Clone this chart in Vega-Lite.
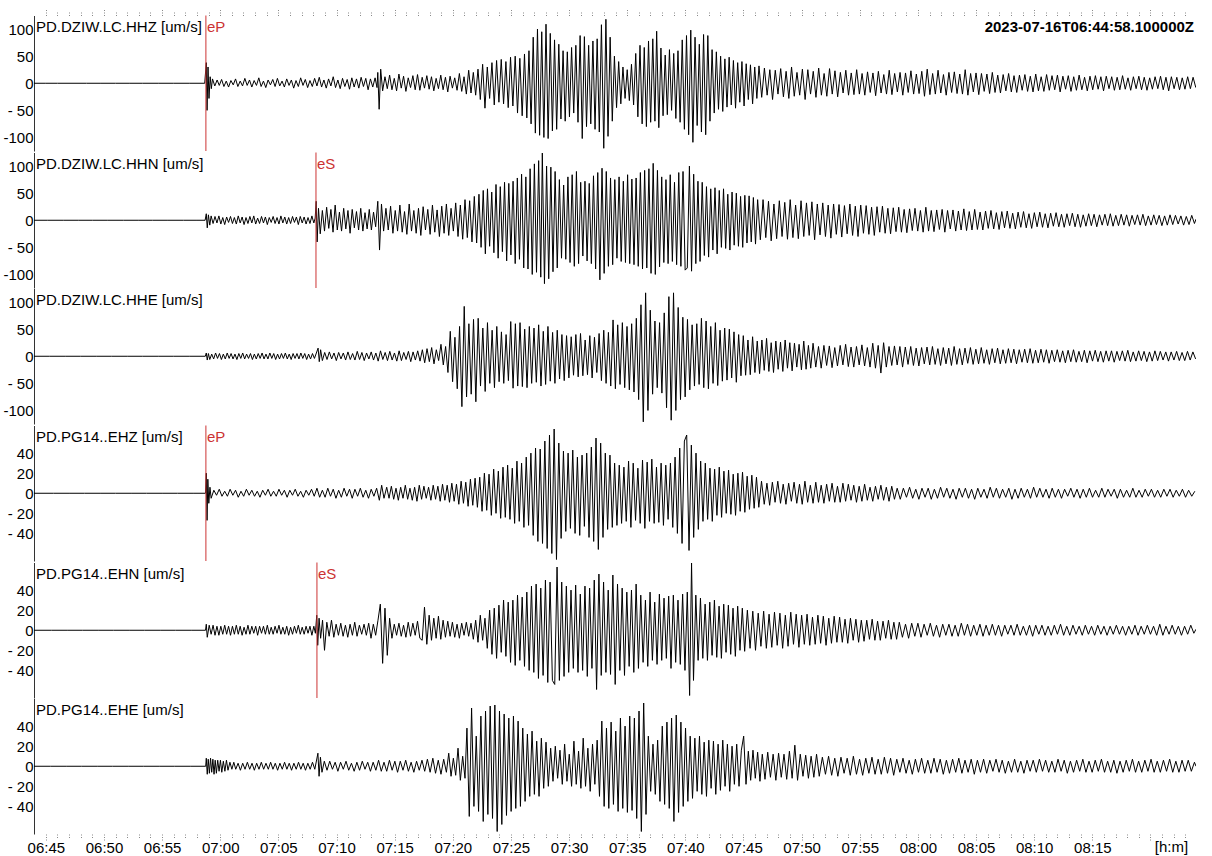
{
"$schema":"https://vega.github.io/schema/vega-lite/v6.json",
"padding":{"left":2,"top":8.5,"right":0,"bottom":0},
"spacing":0,
"config":{"font":"Liberation Sans, Arial, sans-serif","view":{"stroke":null},"axis":{"grid":false,"title":null,"labelColor":"#000","labelFontSize":15,"labelFont":"Liberation Sans, Arial, sans-serif"},"text":{"font":"Liberation Sans, Arial, sans-serif","fontSize":15}},
"datasets":{
"hhz":[{"t":-41,"a":0},{"t":20,"a":0},{"t":80,"a":0},{"t":150,"a":0},{"t":230,"a":0},{"t":300,"a":0},{"t":380,"a":0},{"t":450,"a":0},{"t":520,"a":0},{"t":600,"a":0},{"t":680,"a":0},{"t":760,"a":0},{"t":840,"a":0},{"t":848,"a":38},{"t":852,"a":-50},{"t":857,"a":30},{"t":862,"a":-28},{"t":868,"a":12},{"t":874,"a":-10},{"t":880,"a":8},{"t":892,"a":-5},{"t":904,"a":6},{"t":915,"a":-4},{"t":927,"a":7},{"t":939,"a":-6},{"t":951,"a":4},{"t":963,"a":-7},{"t":975,"a":5},{"t":987,"a":-3},{"t":999,"a":8},{"t":1011,"a":-6},{"t":1023,"a":4},{"t":1035,"a":-5},{"t":1047,"a":9},{"t":1059,"a":-4},{"t":1071,"a":6},{"t":1083,"a":-7},{"t":1095,"a":5},{"t":1107,"a":-4},{"t":1119,"a":10},{"t":1131,"a":-6},{"t":1143,"a":4},{"t":1155,"a":-8},{"t":1167,"a":6},{"t":1179,"a":-3},{"t":1191,"a":7},{"t":1203,"a":-6},{"t":1215,"a":9},{"t":1227,"a":-5},{"t":1239,"a":4},{"t":1251,"a":-7},{"t":1263,"a":8},{"t":1275,"a":-4},{"t":1287,"a":6},{"t":1299,"a":-9},{"t":1311,"a":5},{"t":1323,"a":-6},{"t":1335,"a":10},{"t":1347,"a":-4},{"t":1359,"a":7},{"t":1371,"a":-8},{"t":1383,"a":5},{"t":1395,"a":-6},{"t":1407,"a":9},{"t":1419,"a":-5},{"t":1431,"a":11},{"t":1443,"a":-7},{"t":1455,"a":6},{"t":1467,"a":-9},{"t":1479,"a":8},{"t":1491,"a":-5},{"t":1503,"a":12},{"t":1515,"a":-8},{"t":1527,"a":6},{"t":1539,"a":-10},{"t":1551,"a":9},{"t":1563,"a":-6},{"t":1575,"a":7},{"t":1587,"a":-11},{"t":1599,"a":10},{"t":1611,"a":-7},{"t":1623,"a":8},{"t":1635,"a":-9},{"t":1647,"a":11},{"t":1659,"a":-6},{"t":1671,"a":9},{"t":1683,"a":-12},{"t":1695,"a":8},{"t":1707,"a":-7},{"t":1719,"a":10},{"t":1729,"a":-8},{"t":1733,"a":20},{"t":1740,"a":-48},{"t":1748,"a":26},{"t":1758,"a":-14},{"t":1770,"a":12},{"t":1782,"a":-10},{"t":1794,"a":15},{"t":1806,"a":-12},{"t":1818,"a":9},{"t":1830,"a":-14},{"t":1842,"a":17},{"t":1854,"a":-9},{"t":1866,"a":13},{"t":1878,"a":-15},{"t":1890,"a":10},{"t":1902,"a":-8},{"t":1914,"a":14},{"t":1926,"a":-12},{"t":1938,"a":16},{"t":1950,"a":-13},{"t":1962,"a":11},{"t":1974,"a":-9},{"t":1986,"a":14},{"t":1998,"a":-11},{"t":2010,"a":12},{"t":2022,"a":-14},{"t":2034,"a":9},{"t":2046,"a":-10},{"t":2058,"a":15},{"t":2070,"a":-12},{"t":2082,"a":11},{"t":2094,"a":-16},{"t":2106,"a":13},{"t":2118,"a":-9},{"t":2130,"a":10},{"t":2142,"a":-13},{"t":2154,"a":18},{"t":2166,"a":-15},{"t":2178,"a":12},{"t":2190,"a":-20},{"t":2202,"a":24},{"t":2214,"a":-18},{"t":2226,"a":20},{"t":2238,"a":-22},{"t":2250,"a":26},{"t":2262,"a":-30},{"t":2274,"a":35},{"t":2286,"a":-46},{"t":2298,"a":30},{"t":2310,"a":-28},{"t":2322,"a":38},{"t":2334,"a":-40},{"t":2346,"a":42},{"t":2358,"a":-35},{"t":2370,"a":44},{"t":2382,"a":-38},{"t":2394,"a":40},{"t":2406,"a":-45},{"t":2418,"a":48},{"t":2430,"a":-42},{"t":2442,"a":50},{"t":2454,"a":-55},{"t":2466,"a":46},{"t":2478,"a":-60},{"t":2490,"a":54},{"t":2502,"a":-64},{"t":2513,"a":60},{"t":2524,"a":-75},{"t":2535,"a":85},{"t":2546,"a":-92},{"t":2557,"a":100},{"t":2568,"a":-96},{"t":2579,"a":95},{"t":2590,"a":-100},{"t":2601,"a":109},{"t":2612,"a":-102},{"t":2623,"a":92},{"t":2634,"a":-88},{"t":2645,"a":80},{"t":2656,"a":-85},{"t":2667,"a":72},{"t":2678,"a":-66},{"t":2689,"a":60},{"t":2700,"a":-70},{"t":2711,"a":58},{"t":2722,"a":-62},{"t":2733,"a":66},{"t":2744,"a":-55},{"t":2755,"a":70},{"t":2766,"a":-72},{"t":2777,"a":88},{"t":2788,"a":-102},{"t":2799,"a":86},{"t":2810,"a":-80},{"t":2821,"a":70},{"t":2832,"a":-75},{"t":2843,"a":78},{"t":2854,"a":-85},{"t":2865,"a":82},{"t":2876,"a":-90},{"t":2887,"a":108},{"t":2899,"a":-120},{"t":2910,"a":118},{"t":2921,"a":-98},{"t":2932,"a":85},{"t":2943,"a":-70},{"t":2954,"a":50},{"t":2965,"a":-45},{"t":2976,"a":40},{"t":2987,"a":-38},{"t":2998,"a":30},{"t":3009,"a":-28},{"t":3020,"a":25},{"t":3031,"a":-32},{"t":3042,"a":35},{"t":3053,"a":-40},{"t":3064,"a":55},{"t":3075,"a":-62},{"t":3086,"a":70},{"t":3097,"a":-75},{"t":3108,"a":66},{"t":3119,"a":-80},{"t":3130,"a":78},{"t":3141,"a":-72},{"t":3152,"a":82},{"t":3163,"a":-70},{"t":3172,"a":96},{"t":3183,"a":-82},{"t":3194,"a":65},{"t":3205,"a":-60},{"t":3216,"a":52},{"t":3227,"a":-58},{"t":3238,"a":62},{"t":3249,"a":-50},{"t":3260,"a":55},{"t":3271,"a":-65},{"t":3282,"a":60},{"t":3293,"a":-72},{"t":3304,"a":80},{"t":3315,"a":-85},{"t":3326,"a":88},{"t":3337,"a":-95},{"t":3348,"a":98},{"t":3359,"a":-109},{"t":3370,"a":85},{"t":3381,"a":-78},{"t":3392,"a":72},{"t":3403,"a":-90},{"t":3414,"a":90},{"t":3425,"a":-95},{"t":3436,"a":88},{"t":3447,"a":-70},{"t":3458,"a":62},{"t":3469,"a":-55},{"t":3480,"a":58},{"t":3491,"a":-48},{"t":3502,"a":50},{"t":3513,"a":-52},{"t":3524,"a":45},{"t":3535,"a":-44},{"t":3546,"a":48},{"t":3557,"a":-40},{"t":3568,"a":42},{"t":3579,"a":-46},{"t":3590,"a":38},{"t":3601,"a":-35},{"t":3612,"a":40},{"t":3623,"a":-42},{"t":3634,"a":36},{"t":3645,"a":-30},{"t":3656,"a":34},{"t":3667,"a":-38},{"t":3678,"a":30},{"t":3689,"a":-28},{"t":3700,"a":32},{"t":3714,"a":-26},{"t":3728,"a":28},{"t":3742,"a":-22},{"t":3756,"a":25},{"t":3770,"a":-30},{"t":3784,"a":24},{"t":3798,"a":-20},{"t":3812,"a":27},{"t":3826,"a":-25},{"t":3840,"a":22},{"t":3854,"a":-28},{"t":3868,"a":30},{"t":3882,"a":-24},{"t":3896,"a":20},{"t":3910,"a":-22},{"t":3924,"a":26},{"t":3938,"a":-30},{"t":3952,"a":25},{"t":3966,"a":-20},{"t":3980,"a":22},{"t":3994,"a":-26},{"t":4008,"a":28},{"t":4022,"a":-22},{"t":4036,"a":18},{"t":4050,"a":-24},{"t":4064,"a":27},{"t":4078,"a":-20},{"t":4092,"a":23},{"t":4106,"a":-25},{"t":4120,"a":20},{"t":4134,"a":-18},{"t":4148,"a":24},{"t":4162,"a":-22},{"t":4176,"a":19},{"t":4190,"a":-21},{"t":4204,"a":25},{"t":4218,"a":-20},{"t":4232,"a":18},{"t":4246,"a":-22},{"t":4260,"a":21},{"t":4274,"a":-17},{"t":4288,"a":19},{"t":4302,"a":-23},{"t":4316,"a":22},{"t":4330,"a":-18},{"t":4344,"a":16},{"t":4358,"a":-20},{"t":4372,"a":24},{"t":4386,"a":-21},{"t":4400,"a":18},{"t":4414,"a":-16},{"t":4428,"a":20},{"t":4442,"a":-22},{"t":4456,"a":19},{"t":4470,"a":-17},{"t":4484,"a":23},{"t":4498,"a":-20},{"t":4512,"a":17},{"t":4526,"a":-19},{"t":4540,"a":22},{"t":4554,"a":-24},{"t":4568,"a":26},{"t":4582,"a":-21},{"t":4596,"a":18},{"t":4610,"a":-20},{"t":4624,"a":24},{"t":4638,"a":-18},{"t":4652,"a":16},{"t":4666,"a":-22},{"t":4680,"a":20},{"t":4694,"a":-17},{"t":4708,"a":21},{"t":4722,"a":-19},{"t":4736,"a":17},{"t":4750,"a":-20},{"t":4764,"a":25},{"t":4778,"a":-22},{"t":4792,"a":18},{"t":4806,"a":-16},{"t":4820,"a":19},{"t":4834,"a":-21},{"t":4848,"a":18},{"t":4862,"a":-15},{"t":4876,"a":17},{"t":4890,"a":-19},{"t":4904,"a":20},{"t":4918,"a":-17},{"t":4932,"a":15},{"t":4946,"a":-18},{"t":4960,"a":16},{"t":4974,"a":-14},{"t":4988,"a":18},{"t":5002,"a":-16},{"t":5016,"a":14},{"t":5030,"a":-17},{"t":5044,"a":15},{"t":5058,"a":-13},{"t":5072,"a":16},{"t":5086,"a":-15},{"t":5100,"a":13},{"t":5114,"a":-16},{"t":5128,"a":17},{"t":5142,"a":-14},{"t":5156,"a":12},{"t":5170,"a":-15},{"t":5184,"a":16},{"t":5198,"a":-13},{"t":5212,"a":14},{"t":5226,"a":-12},{"t":5240,"a":15},{"t":5254,"a":-16},{"t":5268,"a":13},{"t":5282,"a":-11},{"t":5296,"a":14},{"t":5310,"a":-15},{"t":5324,"a":12},{"t":5338,"a":-13},{"t":5352,"a":15},{"t":5366,"a":-12},{"t":5380,"a":11},{"t":5394,"a":-14},{"t":5408,"a":13},{"t":5422,"a":-12},{"t":5436,"a":14},{"t":5450,"a":-11},{"t":5464,"a":12},{"t":5478,"a":-14},{"t":5492,"a":13},{"t":5506,"a":-10},{"t":5520,"a":12},{"t":5534,"a":-13},{"t":5548,"a":11},{"t":5562,"a":-12},{"t":5576,"a":14},{"t":5590,"a":-11},{"t":5604,"a":10},{"t":5618,"a":-13},{"t":5632,"a":12},{"t":5646,"a":-10},{"t":5660,"a":13},{"t":5674,"a":-12},{"t":5688,"a":11},{"t":5702,"a":-13},{"t":5716,"a":10},{"t":5730,"a":-11},{"t":5744,"a":12},{"t":5758,"a":-10},{"t":5772,"a":13},{"t":5786,"a":-12},{"t":5800,"a":11},{"t":5814,"a":-14},{"t":5828,"a":12},{"t":5842,"a":-10},{"t":5856,"a":11},{"t":5870,"a":-12},{"t":5884,"a":10},{"t":5898,"a":-11},{"t":5912,"a":12},{"t":5926,"a":-10},{"t":5940,"a":11},{"t":5954,"a":-8}],
"hhn":[{"t":-41,"a":0},{"t":30,"a":0},{"t":110,"a":0},{"t":190,"a":0},{"t":260,"a":0},{"t":340,"a":0},{"t":420,"a":0},{"t":500,"a":0},{"t":570,"a":0},{"t":650,"a":0},{"t":730,"a":0},{"t":800,"a":0},{"t":842,"a":0},{"t":848,"a":12},{"t":853,"a":-14},{"t":859,"a":10},{"t":866,"a":-9},{"t":873,"a":8},{"t":883,"a":-6},{"t":893,"a":7},{"t":903,"a":-5},{"t":913,"a":8},{"t":923,"a":-7},{"t":933,"a":5},{"t":943,"a":-8},{"t":953,"a":6},{"t":963,"a":-4},{"t":973,"a":7},{"t":983,"a":-6},{"t":993,"a":5},{"t":1003,"a":-7},{"t":1013,"a":8},{"t":1023,"a":-5},{"t":1033,"a":6},{"t":1043,"a":-8},{"t":1053,"a":5},{"t":1063,"a":-6},{"t":1073,"a":7},{"t":1083,"a":-5},{"t":1093,"a":8},{"t":1103,"a":-7},{"t":1113,"a":4},{"t":1123,"a":-6},{"t":1133,"a":7},{"t":1143,"a":-5},{"t":1153,"a":6},{"t":1163,"a":-8},{"t":1173,"a":5},{"t":1183,"a":-4},{"t":1193,"a":7},{"t":1203,"a":-6},{"t":1213,"a":5},{"t":1223,"a":-7},{"t":1233,"a":8},{"t":1243,"a":-5},{"t":1253,"a":6},{"t":1263,"a":-7},{"t":1273,"a":5},{"t":1283,"a":-6},{"t":1293,"a":7},{"t":1303,"a":-4},{"t":1313,"a":6},{"t":1323,"a":-8},{"t":1333,"a":7},{"t":1343,"a":-5},{"t":1353,"a":6},{"t":1363,"a":-7},{"t":1373,"a":5},{"t":1383,"a":-6},{"t":1393,"a":8},{"t":1403,"a":-5},{"t":1410,"a":4},{"t":1415,"a":35},{"t":1420,"a":-40},{"t":1427,"a":22},{"t":1436,"a":-25},{"t":1447,"a":18},{"t":1458,"a":-20},{"t":1469,"a":24},{"t":1480,"a":-15},{"t":1491,"a":20},{"t":1502,"a":-22},{"t":1513,"a":28},{"t":1524,"a":-18},{"t":1535,"a":15},{"t":1546,"a":-20},{"t":1557,"a":22},{"t":1568,"a":-16},{"t":1579,"a":18},{"t":1590,"a":-24},{"t":1601,"a":20},{"t":1612,"a":-14},{"t":1623,"a":16},{"t":1634,"a":-18},{"t":1645,"a":22},{"t":1656,"a":-20},{"t":1667,"a":14},{"t":1678,"a":-16},{"t":1689,"a":20},{"t":1700,"a":-18},{"t":1711,"a":15},{"t":1722,"a":-12},{"t":1733,"a":35},{"t":1742,"a":-55},{"t":1752,"a":30},{"t":1763,"a":-20},{"t":1775,"a":22},{"t":1787,"a":-18},{"t":1799,"a":26},{"t":1811,"a":-24},{"t":1823,"a":18},{"t":1835,"a":-20},{"t":1847,"a":28},{"t":1859,"a":-22},{"t":1871,"a":16},{"t":1883,"a":-26},{"t":1895,"a":30},{"t":1907,"a":-20},{"t":1919,"a":18},{"t":1931,"a":-24},{"t":1943,"a":22},{"t":1955,"a":-28},{"t":1967,"a":25},{"t":1979,"a":-18},{"t":1991,"a":20},{"t":2003,"a":-26},{"t":2015,"a":28},{"t":2027,"a":-22},{"t":2039,"a":19},{"t":2051,"a":-30},{"t":2063,"a":26},{"t":2075,"a":-24},{"t":2087,"a":30},{"t":2099,"a":-28},{"t":2111,"a":22},{"t":2123,"a":-20},{"t":2135,"a":32},{"t":2147,"a":-30},{"t":2159,"a":28},{"t":2171,"a":-35},{"t":2183,"a":38},{"t":2195,"a":-32},{"t":2207,"a":36},{"t":2219,"a":-40},{"t":2231,"a":44},{"t":2243,"a":-42},{"t":2255,"a":48},{"t":2266,"a":-50},{"t":2277,"a":55},{"t":2288,"a":-62},{"t":2299,"a":58},{"t":2310,"a":-48},{"t":2321,"a":52},{"t":2332,"a":-60},{"t":2343,"a":66},{"t":2354,"a":-70},{"t":2365,"a":62},{"t":2376,"a":-58},{"t":2387,"a":70},{"t":2398,"a":-75},{"t":2409,"a":68},{"t":2420,"a":-64},{"t":2431,"a":72},{"t":2442,"a":-80},{"t":2453,"a":78},{"t":2464,"a":-72},{"t":2475,"a":85},{"t":2486,"a":-88},{"t":2497,"a":80},{"t":2508,"a":-90},{"t":2519,"a":95},{"t":2530,"a":-100},{"t":2541,"a":104},{"t":2552,"a":-96},{"t":2563,"a":110},{"t":2574,"a":-105},{"t":2582,"a":124},{"t":2593,"a":-117},{"t":2604,"a":100},{"t":2615,"a":-108},{"t":2626,"a":98},{"t":2637,"a":-95},{"t":2648,"a":90},{"t":2659,"a":-88},{"t":2670,"a":75},{"t":2681,"a":-70},{"t":2692,"a":65},{"t":2703,"a":-72},{"t":2714,"a":80},{"t":2725,"a":-78},{"t":2736,"a":84},{"t":2747,"a":-85},{"t":2758,"a":90},{"t":2769,"a":-80},{"t":2780,"a":70},{"t":2791,"a":-66},{"t":2802,"a":72},{"t":2813,"a":-75},{"t":2824,"a":68},{"t":2835,"a":-80},{"t":2846,"a":82},{"t":2857,"a":-90},{"t":2868,"a":88},{"t":2879,"a":-110},{"t":2890,"a":96},{"t":2901,"a":-98},{"t":2912,"a":90},{"t":2923,"a":-85},{"t":2934,"a":78},{"t":2945,"a":-82},{"t":2956,"a":75},{"t":2967,"a":-70},{"t":2978,"a":80},{"t":2989,"a":-76},{"t":3000,"a":72},{"t":3011,"a":-78},{"t":3022,"a":84},{"t":3033,"a":-80},{"t":3044,"a":76},{"t":3055,"a":-82},{"t":3066,"a":78},{"t":3077,"a":-85},{"t":3088,"a":88},{"t":3099,"a":-90},{"t":3110,"a":92},{"t":3121,"a":-88},{"t":3132,"a":95},{"t":3143,"a":-98},{"t":3154,"a":105},{"t":3165,"a":-100},{"t":3176,"a":92},{"t":3187,"a":-86},{"t":3198,"a":80},{"t":3209,"a":-78},{"t":3220,"a":75},{"t":3231,"a":-80},{"t":3242,"a":84},{"t":3253,"a":-76},{"t":3264,"a":70},{"t":3275,"a":-82},{"t":3286,"a":88},{"t":3297,"a":-85},{"t":3308,"a":90},{"t":3319,"a":-92},{"t":3330,"a":-88},{"t":3341,"a":100},{"t":3352,"a":-94},{"t":3363,"a":85},{"t":3374,"a":-80},{"t":3385,"a":72},{"t":3396,"a":-76},{"t":3407,"a":70},{"t":3418,"a":-65},{"t":3429,"a":62},{"t":3440,"a":-68},{"t":3451,"a":58},{"t":3462,"a":-55},{"t":3473,"a":60},{"t":3484,"a":-62},{"t":3495,"a":55},{"t":3506,"a":-50},{"t":3517,"a":58},{"t":3528,"a":-52},{"t":3539,"a":48},{"t":3550,"a":-55},{"t":3561,"a":52},{"t":3572,"a":-46},{"t":3583,"a":50},{"t":3594,"a":-48},{"t":3605,"a":44},{"t":3616,"a":-50},{"t":3627,"a":46},{"t":3638,"a":-42},{"t":3649,"a":45},{"t":3660,"a":-40},{"t":3671,"a":42},{"t":3682,"a":-44},{"t":3693,"a":38},{"t":3707,"a":-36},{"t":3721,"a":38},{"t":3735,"a":-32},{"t":3749,"a":35},{"t":3763,"a":-38},{"t":3777,"a":30},{"t":3791,"a":-34},{"t":3805,"a":36},{"t":3819,"a":-30},{"t":3833,"a":33},{"t":3847,"a":-35},{"t":3861,"a":38},{"t":3875,"a":-32},{"t":3889,"a":28},{"t":3903,"a":-34},{"t":3917,"a":36},{"t":3931,"a":-30},{"t":3945,"a":32},{"t":3959,"a":-28},{"t":3973,"a":34},{"t":3987,"a":-36},{"t":4001,"a":30},{"t":4015,"a":-27},{"t":4029,"a":32},{"t":4043,"a":-30},{"t":4057,"a":28},{"t":4071,"a":-33},{"t":4085,"a":30},{"t":4099,"a":-26},{"t":4113,"a":29},{"t":4127,"a":-31},{"t":4141,"a":27},{"t":4155,"a":-25},{"t":4169,"a":30},{"t":4183,"a":-28},{"t":4197,"a":26},{"t":4211,"a":-30},{"t":4225,"a":28},{"t":4239,"a":-24},{"t":4253,"a":27},{"t":4267,"a":-26},{"t":4281,"a":24},{"t":4295,"a":-28},{"t":4309,"a":25},{"t":4323,"a":-22},{"t":4337,"a":26},{"t":4351,"a":-24},{"t":4365,"a":22},{"t":4379,"a":-25},{"t":4393,"a":23},{"t":4407,"a":-21},{"t":4421,"a":24},{"t":4435,"a":-22},{"t":4449,"a":20},{"t":4463,"a":-23},{"t":4477,"a":21},{"t":4491,"a":-19},{"t":4505,"a":22},{"t":4519,"a":-20},{"t":4533,"a":18},{"t":4547,"a":-22},{"t":4561,"a":24},{"t":4575,"a":-20},{"t":4589,"a":18},{"t":4603,"a":-21},{"t":4617,"a":19},{"t":4631,"a":-17},{"t":4645,"a":20},{"t":4659,"a":-22},{"t":4673,"a":18},{"t":4687,"a":-16},{"t":4701,"a":19},{"t":4715,"a":-20},{"t":4729,"a":17},{"t":4743,"a":-18},{"t":4757,"a":21},{"t":4771,"a":-19},{"t":4785,"a":16},{"t":4799,"a":-18},{"t":4813,"a":20},{"t":4827,"a":-17},{"t":4841,"a":15},{"t":4855,"a":-18},{"t":4869,"a":17},{"t":4883,"a":-15},{"t":4897,"a":18},{"t":4911,"a":-16},{"t":4925,"a":14},{"t":4939,"a":-17},{"t":4953,"a":16},{"t":4967,"a":-14},{"t":4981,"a":17},{"t":4995,"a":-15},{"t":5009,"a":13},{"t":5023,"a":-16},{"t":5037,"a":15},{"t":5051,"a":-13},{"t":5065,"a":16},{"t":5079,"a":-14},{"t":5093,"a":12},{"t":5107,"a":-15},{"t":5121,"a":14},{"t":5135,"a":-12},{"t":5149,"a":15},{"t":5163,"a":-13},{"t":5177,"a":12},{"t":5191,"a":-14},{"t":5205,"a":13},{"t":5219,"a":-11},{"t":5233,"a":14},{"t":5247,"a":-12},{"t":5261,"a":11},{"t":5275,"a":-13},{"t":5289,"a":12},{"t":5303,"a":-10},{"t":5317,"a":13},{"t":5331,"a":-12},{"t":5345,"a":11},{"t":5359,"a":-13},{"t":5373,"a":10},{"t":5387,"a":-11},{"t":5401,"a":12},{"t":5415,"a":-10},{"t":5429,"a":11},{"t":5443,"a":-12},{"t":5457,"a":10},{"t":5471,"a":-9},{"t":5485,"a":11},{"t":5499,"a":-10},{"t":5513,"a":12},{"t":5527,"a":-11},{"t":5541,"a":9},{"t":5555,"a":-10},{"t":5569,"a":11},{"t":5583,"a":-9},{"t":5597,"a":10},{"t":5611,"a":-11},{"t":5625,"a":9},{"t":5639,"a":-8},{"t":5653,"a":10},{"t":5667,"a":-9},{"t":5681,"a":11},{"t":5695,"a":-10},{"t":5709,"a":8},{"t":5723,"a":-9},{"t":5737,"a":10},{"t":5751,"a":-8},{"t":5765,"a":9},{"t":5779,"a":-10},{"t":5793,"a":8},{"t":5807,"a":-9},{"t":5821,"a":10},{"t":5835,"a":-8},{"t":5849,"a":9},{"t":5863,"a":-7},{"t":5877,"a":8},{"t":5891,"a":-9},{"t":5905,"a":7},{"t":5919,"a":-8},{"t":5933,"a":9},{"t":5947,"a":-6},{"t":5955,"a":2}],
"hhe":[{"t":-41,"a":0},{"t":40,"a":0},{"t":120,"a":0},{"t":200,"a":0},{"t":280,"a":0},{"t":360,"a":0},{"t":440,"a":0},{"t":520,"a":0},{"t":600,"a":0},{"t":680,"a":0},{"t":760,"a":0},{"t":843,"a":0},{"t":848,"a":6},{"t":853,"a":-7},{"t":859,"a":5},{"t":866,"a":-6},{"t":876,"a":4},{"t":886,"a":-5},{"t":896,"a":6},{"t":906,"a":-4},{"t":916,"a":5},{"t":926,"a":-6},{"t":936,"a":4},{"t":946,"a":-5},{"t":956,"a":6},{"t":966,"a":-4},{"t":976,"a":5},{"t":986,"a":-5},{"t":996,"a":4},{"t":1006,"a":-6},{"t":1016,"a":5},{"t":1026,"a":-4},{"t":1036,"a":6},{"t":1046,"a":-5},{"t":1056,"a":4},{"t":1066,"a":-4},{"t":1076,"a":5},{"t":1086,"a":-6},{"t":1096,"a":4},{"t":1106,"a":-5},{"t":1116,"a":5},{"t":1126,"a":-4},{"t":1136,"a":6},{"t":1146,"a":-5},{"t":1156,"a":4},{"t":1166,"a":-5},{"t":1176,"a":6},{"t":1186,"a":-4},{"t":1196,"a":5},{"t":1206,"a":-6},{"t":1216,"a":4},{"t":1226,"a":-5},{"t":1236,"a":5},{"t":1246,"a":-4},{"t":1256,"a":6},{"t":1266,"a":-5},{"t":1276,"a":4},{"t":1286,"a":-6},{"t":1296,"a":5},{"t":1306,"a":-4},{"t":1316,"a":5},{"t":1326,"a":-5},{"t":1336,"a":6},{"t":1346,"a":-4},{"t":1356,"a":5},{"t":1366,"a":-6},{"t":1376,"a":4},{"t":1386,"a":-5},{"t":1396,"a":5},{"t":1406,"a":-4},{"t":1425,"a":15},{"t":1431,"a":-10},{"t":1438,"a":12},{"t":1447,"a":-8},{"t":1459,"a":7},{"t":1471,"a":-6},{"t":1483,"a":8},{"t":1495,"a":-5},{"t":1507,"a":6},{"t":1519,"a":-8},{"t":1531,"a":7},{"t":1543,"a":-5},{"t":1555,"a":6},{"t":1567,"a":-7},{"t":1579,"a":8},{"t":1591,"a":-6},{"t":1603,"a":5},{"t":1615,"a":-7},{"t":1627,"a":9},{"t":1639,"a":-6},{"t":1651,"a":7},{"t":1663,"a":-8},{"t":1675,"a":6},{"t":1687,"a":-5},{"t":1699,"a":8},{"t":1711,"a":-7},{"t":1723,"a":6},{"t":1735,"a":-9},{"t":1747,"a":10},{"t":1759,"a":-6},{"t":1771,"a":7},{"t":1783,"a":-8},{"t":1795,"a":9},{"t":1807,"a":-7},{"t":1819,"a":6},{"t":1831,"a":-9},{"t":1843,"a":10},{"t":1855,"a":-8},{"t":1867,"a":7},{"t":1879,"a":-6},{"t":1891,"a":9},{"t":1903,"a":-10},{"t":1915,"a":8},{"t":1927,"a":-7},{"t":1939,"a":10},{"t":1951,"a":-9},{"t":1963,"a":12},{"t":1975,"a":-12},{"t":1987,"a":14},{"t":1999,"a":-10},{"t":2011,"a":16},{"t":2023,"a":-14},{"t":2035,"a":12},{"t":2047,"a":-8},{"t":2059,"a":22},{"t":2071,"a":-16},{"t":2083,"a":18},{"t":2095,"a":-30},{"t":2107,"a":46},{"t":2119,"a":-47},{"t":2131,"a":35},{"t":2143,"a":-60},{"t":2155,"a":55},{"t":2167,"a":-93},{"t":2179,"a":92},{"t":2191,"a":-75},{"t":2203,"a":60},{"t":2215,"a":-70},{"t":2227,"a":68},{"t":2239,"a":-84},{"t":2251,"a":70},{"t":2263,"a":-55},{"t":2275,"a":52},{"t":2287,"a":-65},{"t":2299,"a":62},{"t":2311,"a":-50},{"t":2323,"a":48},{"t":2335,"a":-58},{"t":2347,"a":55},{"t":2359,"a":-47},{"t":2371,"a":45},{"t":2383,"a":-50},{"t":2395,"a":40},{"t":2407,"a":-45},{"t":2419,"a":64},{"t":2431,"a":-59},{"t":2443,"a":60},{"t":2455,"a":-55},{"t":2467,"a":62},{"t":2479,"a":-56},{"t":2491,"a":50},{"t":2503,"a":-58},{"t":2515,"a":55},{"t":2527,"a":-50},{"t":2539,"a":52},{"t":2551,"a":-48},{"t":2563,"a":58},{"t":2575,"a":-55},{"t":2587,"a":46},{"t":2599,"a":-52},{"t":2611,"a":55},{"t":2623,"a":-46},{"t":2635,"a":44},{"t":2647,"a":-50},{"t":2659,"a":48},{"t":2671,"a":-42},{"t":2683,"a":40},{"t":2695,"a":-45},{"t":2707,"a":38},{"t":2719,"a":-40},{"t":2731,"a":36},{"t":2743,"a":-35},{"t":2755,"a":40},{"t":2767,"a":-38},{"t":2779,"a":42},{"t":2791,"a":-36},{"t":2803,"a":30},{"t":2815,"a":-34},{"t":2827,"a":38},{"t":2839,"a":-40},{"t":2851,"a":35},{"t":2863,"a":-30},{"t":2875,"a":42},{"t":2887,"a":-45},{"t":2899,"a":48},{"t":2911,"a":-50},{"t":2923,"a":44},{"t":2935,"a":-55},{"t":2947,"a":67},{"t":2959,"a":-60},{"t":2971,"a":58},{"t":2983,"a":-52},{"t":2995,"a":62},{"t":3007,"a":-58},{"t":3019,"a":55},{"t":3031,"a":-62},{"t":3043,"a":60},{"t":3055,"a":-66},{"t":3067,"a":70},{"t":3079,"a":-80},{"t":3091,"a":95},{"t":3103,"a":-121},{"t":3115,"a":117},{"t":3127,"a":-100},{"t":3139,"a":85},{"t":3151,"a":-70},{"t":3163,"a":65},{"t":3175,"a":-58},{"t":3187,"a":62},{"t":3199,"a":-68},{"t":3211,"a":80},{"t":3223,"a":-95},{"t":3235,"a":110},{"t":3247,"a":-118},{"t":3259,"a":117},{"t":3271,"a":-100},{"t":3283,"a":90},{"t":3295,"a":-80},{"t":3307,"a":72},{"t":3319,"a":-75},{"t":3331,"a":68},{"t":3343,"a":-62},{"t":3355,"a":58},{"t":3367,"a":-55},{"t":3379,"a":60},{"t":3391,"a":-52},{"t":3403,"a":70},{"t":3415,"a":-58},{"t":3427,"a":65},{"t":3439,"a":-60},{"t":3451,"a":55},{"t":3463,"a":-50},{"t":3475,"a":62},{"t":3487,"a":-54},{"t":3499,"a":48},{"t":3511,"a":-46},{"t":3523,"a":52},{"t":3535,"a":-44},{"t":3547,"a":50},{"t":3559,"a":-40},{"t":3571,"a":45},{"t":3583,"a":-48},{"t":3595,"a":40},{"t":3607,"a":-36},{"t":3619,"a":38},{"t":3631,"a":-35},{"t":3643,"a":30},{"t":3655,"a":-34},{"t":3667,"a":36},{"t":3679,"a":-30},{"t":3691,"a":28},{"t":3703,"a":-32},{"t":3715,"a":30},{"t":3727,"a":-26},{"t":3739,"a":33},{"t":3751,"a":-28},{"t":3763,"a":25},{"t":3775,"a":-30},{"t":3787,"a":28},{"t":3799,"a":-24},{"t":3811,"a":26},{"t":3823,"a":-28},{"t":3835,"a":30},{"t":3847,"a":-22},{"t":3859,"a":25},{"t":3871,"a":-27},{"t":3883,"a":24},{"t":3895,"a":-20},{"t":3907,"a":22},{"t":3919,"a":-25},{"t":3931,"a":28},{"t":3943,"a":-24},{"t":3955,"a":20},{"t":3967,"a":-22},{"t":3979,"a":24},{"t":3993,"a":-20},{"t":4007,"a":18},{"t":4021,"a":-22},{"t":4035,"a":20},{"t":4049,"a":-17},{"t":4063,"a":19},{"t":4077,"a":-21},{"t":4091,"a":16},{"t":4105,"a":-18},{"t":4119,"a":20},{"t":4133,"a":-16},{"t":4147,"a":22},{"t":4161,"a":-19},{"t":4175,"a":17},{"t":4189,"a":-20},{"t":4203,"a":18},{"t":4217,"a":-16},{"t":4231,"a":21},{"t":4245,"a":-18},{"t":4259,"a":16},{"t":4273,"a":-20},{"t":4287,"a":24},{"t":4301,"a":-22},{"t":4315,"a":20},{"t":4329,"a":-31},{"t":4343,"a":25},{"t":4357,"a":-20},{"t":4371,"a":18},{"t":4385,"a":-17},{"t":4399,"a":19},{"t":4413,"a":-16},{"t":4427,"a":18},{"t":4441,"a":-20},{"t":4455,"a":17},{"t":4469,"a":-15},{"t":4483,"a":18},{"t":4497,"a":-17},{"t":4511,"a":15},{"t":4525,"a":-18},{"t":4539,"a":16},{"t":4553,"a":-14},{"t":4567,"a":17},{"t":4581,"a":-16},{"t":4595,"a":18},{"t":4609,"a":-15},{"t":4623,"a":14},{"t":4637,"a":-17},{"t":4651,"a":16},{"t":4665,"a":-14},{"t":4679,"a":15},{"t":4693,"a":-17},{"t":4707,"a":18},{"t":4721,"a":-15},{"t":4735,"a":14},{"t":4749,"a":-16},{"t":4763,"a":15},{"t":4777,"a":-13},{"t":4791,"a":16},{"t":4805,"a":-15},{"t":4819,"a":13},{"t":4833,"a":-14},{"t":4847,"a":16},{"t":4861,"a":-13},{"t":4875,"a":12},{"t":4889,"a":-15},{"t":4903,"a":14},{"t":4917,"a":-12},{"t":4931,"a":15},{"t":4945,"a":-14},{"t":4959,"a":12},{"t":4973,"a":-13},{"t":4987,"a":14},{"t":5001,"a":-12},{"t":5015,"a":13},{"t":5029,"a":-14},{"t":5043,"a":12},{"t":5057,"a":-11},{"t":5071,"a":13},{"t":5085,"a":-12},{"t":5099,"a":14},{"t":5113,"a":-13},{"t":5127,"a":11},{"t":5141,"a":-12},{"t":5155,"a":13},{"t":5169,"a":-11},{"t":5183,"a":12},{"t":5197,"a":-13},{"t":5211,"a":11},{"t":5225,"a":-10},{"t":5239,"a":12},{"t":5253,"a":-11},{"t":5267,"a":10},{"t":5281,"a":-12},{"t":5295,"a":11},{"t":5309,"a":-10},{"t":5323,"a":12},{"t":5337,"a":-11},{"t":5351,"a":9},{"t":5365,"a":-10},{"t":5379,"a":11},{"t":5393,"a":-12},{"t":5407,"a":10},{"t":5421,"a":-9},{"t":5435,"a":11},{"t":5449,"a":-10},{"t":5463,"a":9},{"t":5477,"a":-11},{"t":5491,"a":10},{"t":5505,"a":-9},{"t":5519,"a":10},{"t":5533,"a":-11},{"t":5547,"a":9},{"t":5561,"a":-8},{"t":5575,"a":10},{"t":5589,"a":-9},{"t":5603,"a":11},{"t":5617,"a":-10},{"t":5631,"a":8},{"t":5645,"a":-9},{"t":5659,"a":10},{"t":5673,"a":-8},{"t":5687,"a":9},{"t":5701,"a":-10},{"t":5715,"a":8},{"t":5729,"a":-9},{"t":5743,"a":10},{"t":5757,"a":-8},{"t":5771,"a":9},{"t":5785,"a":-7},{"t":5799,"a":8},{"t":5813,"a":-9},{"t":5827,"a":8},{"t":5841,"a":-7},{"t":5855,"a":9},{"t":5869,"a":-8},{"t":5883,"a":7},{"t":5897,"a":-8},{"t":5911,"a":9},{"t":5925,"a":-7},{"t":5939,"a":8},{"t":5953,"a":-5}],
"ehz":[{"t":-41,"a":0},{"t":60,"a":0},{"t":140,"a":0},{"t":220,"a":0},{"t":300,"a":0},{"t":380,"a":0},{"t":460,"a":0},{"t":540,"a":0},{"t":620,"a":0},{"t":700,"a":0},{"t":780,"a":0},{"t":844,"a":0},{"t":848,"a":20},{"t":852,"a":-27},{"t":856,"a":14},{"t":861,"a":-10},{"t":867,"a":6},{"t":873,"a":-5},{"t":887,"a":3},{"t":901,"a":-2},{"t":915,"a":4},{"t":929,"a":-3},{"t":943,"a":2},{"t":957,"a":-3},{"t":971,"a":4},{"t":985,"a":-2},{"t":999,"a":3},{"t":1013,"a":-4},{"t":1027,"a":2},{"t":1041,"a":-3},{"t":1055,"a":4},{"t":1069,"a":-2},{"t":1083,"a":3},{"t":1097,"a":-3},{"t":1111,"a":2},{"t":1125,"a":-4},{"t":1139,"a":3},{"t":1153,"a":-2},{"t":1167,"a":4},{"t":1181,"a":-3},{"t":1195,"a":2},{"t":1209,"a":-3},{"t":1223,"a":4},{"t":1237,"a":-2},{"t":1251,"a":3},{"t":1265,"a":-4},{"t":1279,"a":3},{"t":1293,"a":-2},{"t":1307,"a":4},{"t":1321,"a":-3},{"t":1335,"a":2},{"t":1349,"a":-4},{"t":1363,"a":3},{"t":1377,"a":-2},{"t":1391,"a":4},{"t":1405,"a":-3},{"t":1419,"a":5},{"t":1433,"a":-4},{"t":1447,"a":3},{"t":1461,"a":-4},{"t":1475,"a":5},{"t":1489,"a":-3},{"t":1503,"a":4},{"t":1517,"a":-5},{"t":1531,"a":3},{"t":1545,"a":-4},{"t":1559,"a":5},{"t":1573,"a":-3},{"t":1587,"a":4},{"t":1601,"a":-5},{"t":1615,"a":4},{"t":1629,"a":-3},{"t":1643,"a":5},{"t":1657,"a":-4},{"t":1671,"a":3},{"t":1685,"a":-5},{"t":1699,"a":4},{"t":1713,"a":-3},{"t":1727,"a":5},{"t":1741,"a":-7},{"t":1753,"a":8},{"t":1765,"a":-5},{"t":1779,"a":6},{"t":1791,"a":-5},{"t":1803,"a":7},{"t":1815,"a":-6},{"t":1827,"a":5},{"t":1839,"a":-7},{"t":1851,"a":6},{"t":1863,"a":-5},{"t":1875,"a":8},{"t":1887,"a":-6},{"t":1899,"a":5},{"t":1911,"a":-7},{"t":1923,"a":6},{"t":1935,"a":-8},{"t":1947,"a":8},{"t":1959,"a":-6},{"t":1971,"a":7},{"t":1983,"a":-5},{"t":1995,"a":6},{"t":2007,"a":-7},{"t":2019,"a":8},{"t":2031,"a":-6},{"t":2043,"a":7},{"t":2055,"a":-8},{"t":2067,"a":9},{"t":2079,"a":-7},{"t":2091,"a":8},{"t":2103,"a":-9},{"t":2115,"a":10},{"t":2127,"a":-8},{"t":2139,"a":9},{"t":2151,"a":-11},{"t":2163,"a":12},{"t":2175,"a":-10},{"t":2187,"a":11},{"t":2199,"a":-13},{"t":2211,"a":14},{"t":2223,"a":-12},{"t":2235,"a":15},{"t":2247,"a":-14},{"t":2259,"a":16},{"t":2271,"a":-18},{"t":2283,"a":20},{"t":2295,"a":-17},{"t":2307,"a":19},{"t":2319,"a":-22},{"t":2331,"a":24},{"t":2343,"a":-20},{"t":2355,"a":22},{"t":2367,"a":-25},{"t":2379,"a":26},{"t":2391,"a":-24},{"t":2403,"a":28},{"t":2415,"a":-26},{"t":2427,"a":25},{"t":2439,"a":-30},{"t":2451,"a":32},{"t":2463,"a":-28},{"t":2475,"a":30},{"t":2487,"a":-34},{"t":2499,"a":36},{"t":2511,"a":-32},{"t":2523,"a":40},{"t":2535,"a":-42},{"t":2547,"a":45},{"t":2559,"a":-48},{"t":2571,"a":44},{"t":2583,"a":-50},{"t":2595,"a":52},{"t":2607,"a":-55},{"t":2619,"a":58},{"t":2631,"a":-60},{"t":2643,"a":64},{"t":2655,"a":-66},{"t":2667,"a":50},{"t":2679,"a":-45},{"t":2691,"a":42},{"t":2703,"a":-38},{"t":2715,"a":40},{"t":2727,"a":-35},{"t":2739,"a":43},{"t":2751,"a":-40},{"t":2763,"a":36},{"t":2775,"a":-42},{"t":2787,"a":38},{"t":2799,"a":-33},{"t":2811,"a":40},{"t":2823,"a":-44},{"t":2835,"a":46},{"t":2847,"a":-48},{"t":2859,"a":55},{"t":2871,"a":-56},{"t":2883,"a":50},{"t":2895,"a":-44},{"t":2907,"a":40},{"t":2919,"a":-36},{"t":2931,"a":38},{"t":2943,"a":-34},{"t":2955,"a":30},{"t":2967,"a":-32},{"t":2979,"a":28},{"t":2991,"a":-30},{"t":3003,"a":26},{"t":3015,"a":-28},{"t":3027,"a":32},{"t":3039,"a":-34},{"t":3051,"a":30},{"t":3063,"a":-27},{"t":3075,"a":25},{"t":3087,"a":-30},{"t":3099,"a":33},{"t":3111,"a":-35},{"t":3123,"a":31},{"t":3135,"a":-28},{"t":3147,"a":34},{"t":3159,"a":-30},{"t":3171,"a":26},{"t":3183,"a":-29},{"t":3195,"a":30},{"t":3207,"a":-32},{"t":3219,"a":28},{"t":3231,"a":-26},{"t":3243,"a":30},{"t":3255,"a":-34},{"t":3267,"a":36},{"t":3279,"a":-40},{"t":3291,"a":45},{"t":3303,"a":-50},{"t":3315,"a":52},{"t":3327,"a":58},{"t":3339,"a":-57},{"t":3351,"a":48},{"t":3363,"a":-44},{"t":3375,"a":40},{"t":3387,"a":-36},{"t":3399,"a":32},{"t":3411,"a":-28},{"t":3423,"a":30},{"t":3435,"a":-26},{"t":3447,"a":25},{"t":3459,"a":-28},{"t":3471,"a":24},{"t":3483,"a":-22},{"t":3495,"a":26},{"t":3507,"a":-24},{"t":3519,"a":22},{"t":3531,"a":-20},{"t":3543,"a":23},{"t":3555,"a":-21},{"t":3567,"a":19},{"t":3579,"a":-22},{"t":3591,"a":20},{"t":3603,"a":-18},{"t":3615,"a":21},{"t":3627,"a":-19},{"t":3639,"a":17},{"t":3651,"a":-16},{"t":3663,"a":18},{"t":3675,"a":-15},{"t":3687,"a":16},{"t":3699,"a":-14},{"t":3713,"a":12},{"t":3727,"a":-11},{"t":3741,"a":10},{"t":3755,"a":-12},{"t":3769,"a":11},{"t":3783,"a":-9},{"t":3797,"a":12},{"t":3811,"a":-10},{"t":3825,"a":9},{"t":3839,"a":-11},{"t":3853,"a":10},{"t":3867,"a":-8},{"t":3881,"a":11},{"t":3895,"a":-10},{"t":3909,"a":9},{"t":3923,"a":-11},{"t":3937,"a":12},{"t":3951,"a":-9},{"t":3965,"a":8},{"t":3979,"a":-10},{"t":3993,"a":11},{"t":4007,"a":-9},{"t":4021,"a":8},{"t":4035,"a":-10},{"t":4049,"a":9},{"t":4063,"a":-8},{"t":4077,"a":10},{"t":4091,"a":-9},{"t":4105,"a":7},{"t":4119,"a":-9},{"t":4133,"a":10},{"t":4147,"a":-8},{"t":4161,"a":9},{"t":4175,"a":-7},{"t":4189,"a":8},{"t":4203,"a":-9},{"t":4217,"a":7},{"t":4231,"a":-8},{"t":4245,"a":9},{"t":4259,"a":-7},{"t":4273,"a":6},{"t":4287,"a":-8},{"t":4301,"a":7},{"t":4315,"a":-6},{"t":4329,"a":8},{"t":4343,"a":-7},{"t":4357,"a":6},{"t":4371,"a":-8},{"t":4385,"a":7},{"t":4399,"a":-6},{"t":4413,"a":5},{"t":4429,"a":-6},{"t":4445,"a":5},{"t":4461,"a":-4},{"t":4477,"a":6},{"t":4493,"a":-5},{"t":4509,"a":4},{"t":4525,"a":-6},{"t":4541,"a":5},{"t":4557,"a":-4},{"t":4573,"a":5},{"t":4589,"a":-6},{"t":4605,"a":4},{"t":4621,"a":-5},{"t":4637,"a":6},{"t":4653,"a":-4},{"t":4669,"a":5},{"t":4685,"a":-5},{"t":4701,"a":4},{"t":4717,"a":-6},{"t":4733,"a":5},{"t":4749,"a":-4},{"t":4765,"a":5},{"t":4781,"a":-5},{"t":4797,"a":4},{"t":4813,"a":-6},{"t":4829,"a":5},{"t":4845,"a":-4},{"t":4861,"a":4},{"t":4877,"a":-5},{"t":4893,"a":6},{"t":4909,"a":-4},{"t":4925,"a":5},{"t":4941,"a":-5},{"t":4957,"a":4},{"t":4973,"a":-4},{"t":4989,"a":5},{"t":5005,"a":-6},{"t":5021,"a":4},{"t":5037,"a":-5},{"t":5053,"a":5},{"t":5069,"a":-4},{"t":5085,"a":4},{"t":5101,"a":-5},{"t":5117,"a":6},{"t":5133,"a":-4},{"t":5149,"a":5},{"t":5165,"a":-4},{"t":5181,"a":4},{"t":5197,"a":-5},{"t":5213,"a":5},{"t":5229,"a":-4},{"t":5245,"a":4},{"t":5261,"a":-5},{"t":5277,"a":4},{"t":5293,"a":-3},{"t":5309,"a":5},{"t":5325,"a":-4},{"t":5341,"a":4},{"t":5357,"a":-5},{"t":5373,"a":4},{"t":5389,"a":-4},{"t":5405,"a":5},{"t":5421,"a":-4},{"t":5437,"a":3},{"t":5453,"a":-4},{"t":5469,"a":5},{"t":5485,"a":-4},{"t":5501,"a":4},{"t":5517,"a":-3},{"t":5533,"a":4},{"t":5549,"a":-5},{"t":5565,"a":4},{"t":5581,"a":-4},{"t":5597,"a":3},{"t":5613,"a":-4},{"t":5629,"a":5},{"t":5645,"a":-4},{"t":5661,"a":3},{"t":5677,"a":-4},{"t":5693,"a":4},{"t":5709,"a":-3},{"t":5725,"a":4},{"t":5741,"a":-4},{"t":5757,"a":3},{"t":5773,"a":-4},{"t":5789,"a":4},{"t":5805,"a":-3},{"t":5821,"a":4},{"t":5837,"a":-4},{"t":5853,"a":3},{"t":5869,"a":-3},{"t":5885,"a":4},{"t":5901,"a":-4},{"t":5917,"a":3},{"t":5933,"a":-3},{"t":5949,"a":2}],
"ehn":[{"t":-41,"a":0},{"t":50,"a":0},{"t":130,"a":0},{"t":210,"a":0},{"t":290,"a":0},{"t":370,"a":0},{"t":450,"a":0},{"t":530,"a":0},{"t":610,"a":0},{"t":690,"a":0},{"t":770,"a":0},{"t":844,"a":0},{"t":848,"a":6},{"t":853,"a":-7},{"t":863,"a":5},{"t":873,"a":-4},{"t":883,"a":5},{"t":893,"a":-5},{"t":903,"a":4},{"t":913,"a":-5},{"t":923,"a":4},{"t":933,"a":-4},{"t":943,"a":5},{"t":953,"a":-4},{"t":963,"a":4},{"t":973,"a":-5},{"t":983,"a":4},{"t":993,"a":-4},{"t":1003,"a":5},{"t":1013,"a":-4},{"t":1023,"a":4},{"t":1033,"a":-5},{"t":1043,"a":3},{"t":1053,"a":-4},{"t":1063,"a":5},{"t":1073,"a":-4},{"t":1083,"a":4},{"t":1093,"a":-3},{"t":1103,"a":4},{"t":1113,"a":-5},{"t":1123,"a":4},{"t":1133,"a":-3},{"t":1143,"a":4},{"t":1153,"a":-4},{"t":1163,"a":5},{"t":1173,"a":-4},{"t":1183,"a":3},{"t":1193,"a":-4},{"t":1203,"a":4},{"t":1213,"a":-3},{"t":1223,"a":5},{"t":1233,"a":-4},{"t":1243,"a":3},{"t":1253,"a":-4},{"t":1263,"a":4},{"t":1273,"a":-5},{"t":1283,"a":3},{"t":1293,"a":-4},{"t":1303,"a":4},{"t":1313,"a":-3},{"t":1323,"a":5},{"t":1333,"a":-4},{"t":1343,"a":3},{"t":1353,"a":-4},{"t":1363,"a":4},{"t":1373,"a":-3},{"t":1383,"a":4},{"t":1393,"a":-5},{"t":1403,"a":4},{"t":1411,"a":-3},{"t":1418,"a":15},{"t":1423,"a":-15},{"t":1430,"a":12},{"t":1438,"a":-8},{"t":1448,"a":10},{"t":1458,"a":-20},{"t":1470,"a":8},{"t":1482,"a":-6},{"t":1494,"a":10},{"t":1506,"a":-7},{"t":1518,"a":6},{"t":1530,"a":-5},{"t":1542,"a":7},{"t":1554,"a":-6},{"t":1566,"a":5},{"t":1578,"a":-7},{"t":1590,"a":6},{"t":1602,"a":-5},{"t":1614,"a":8},{"t":1626,"a":-6},{"t":1638,"a":5},{"t":1650,"a":-4},{"t":1662,"a":6},{"t":1674,"a":-5},{"t":1686,"a":7},{"t":1698,"a":-8},{"t":1710,"a":6},{"t":1722,"a":-5},{"t":1734,"a":10},{"t":1746,"a":26},{"t":1758,"a":-33},{"t":1770,"a":22},{"t":1782,"a":-25},{"t":1794,"a":12},{"t":1806,"a":-8},{"t":1818,"a":6},{"t":1830,"a":-5},{"t":1842,"a":7},{"t":1854,"a":-6},{"t":1866,"a":5},{"t":1878,"a":-7},{"t":1890,"a":8},{"t":1902,"a":-6},{"t":1914,"a":7},{"t":1926,"a":-5},{"t":1938,"a":9},{"t":1950,"a":-8},{"t":1962,"a":-10},{"t":1974,"a":23},{"t":1986,"a":-14},{"t":1998,"a":15},{"t":2010,"a":-10},{"t":2022,"a":12},{"t":2034,"a":-8},{"t":2046,"a":14},{"t":2058,"a":-9},{"t":2070,"a":10},{"t":2082,"a":-7},{"t":2094,"a":9},{"t":2106,"a":-6},{"t":2118,"a":8},{"t":2130,"a":-7},{"t":2142,"a":6},{"t":2154,"a":-8},{"t":2166,"a":7},{"t":2178,"a":-5},{"t":2190,"a":8},{"t":2202,"a":-6},{"t":2214,"a":7},{"t":2226,"a":-9},{"t":2238,"a":10},{"t":2250,"a":-12},{"t":2262,"a":15},{"t":2274,"a":-10},{"t":2286,"a":12},{"t":2298,"a":-18},{"t":2310,"a":20},{"t":2322,"a":-24},{"t":2334,"a":22},{"t":2346,"a":-28},{"t":2358,"a":25},{"t":2370,"a":-22},{"t":2382,"a":30},{"t":2394,"a":-26},{"t":2406,"a":28},{"t":2418,"a":-32},{"t":2430,"a":30},{"t":2442,"a":-35},{"t":2454,"a":35},{"t":2466,"a":-30},{"t":2478,"a":33},{"t":2490,"a":-36},{"t":2502,"a":38},{"t":2514,"a":-40},{"t":2526,"a":44},{"t":2538,"a":-42},{"t":2550,"a":46},{"t":2562,"a":-48},{"t":2574,"a":42},{"t":2586,"a":-45},{"t":2598,"a":50},{"t":2610,"a":-52},{"t":2622,"a":48},{"t":2634,"a":-50},{"t":2646,"a":-54},{"t":2658,"a":63},{"t":2670,"a":-50},{"t":2682,"a":48},{"t":2694,"a":-46},{"t":2706,"a":44},{"t":2718,"a":-42},{"t":2730,"a":40},{"t":2742,"a":-38},{"t":2754,"a":45},{"t":2766,"a":-42},{"t":2778,"a":36},{"t":2790,"a":-40},{"t":2802,"a":44},{"t":2814,"a":-46},{"t":2826,"a":42},{"t":2838,"a":-38},{"t":2850,"a":50},{"t":2862,"a":-59},{"t":2874,"a":56},{"t":2886,"a":-45},{"t":2898,"a":48},{"t":2910,"a":-42},{"t":2922,"a":40},{"t":2934,"a":-44},{"t":2946,"a":55},{"t":2958,"a":-54},{"t":2970,"a":46},{"t":2982,"a":-40},{"t":2994,"a":42},{"t":3006,"a":-45},{"t":3018,"a":38},{"t":3030,"a":-36},{"t":3042,"a":40},{"t":3054,"a":-42},{"t":3066,"a":46},{"t":3078,"a":-38},{"t":3090,"a":35},{"t":3102,"a":-32},{"t":3114,"a":30},{"t":3126,"a":-36},{"t":3138,"a":38},{"t":3150,"a":-30},{"t":3162,"a":28},{"t":3174,"a":-34},{"t":3186,"a":36},{"t":3198,"a":-30},{"t":3210,"a":32},{"t":3222,"a":-28},{"t":3234,"a":34},{"t":3246,"a":-38},{"t":3258,"a":35},{"t":3270,"a":-32},{"t":3282,"a":30},{"t":3294,"a":-34},{"t":3306,"a":36},{"t":3318,"a":-40},{"t":3330,"a":38},{"t":3342,"a":-65},{"t":3352,"a":67},{"t":3362,"a":-50},{"t":3374,"a":35},{"t":3386,"a":-30},{"t":3398,"a":32},{"t":3410,"a":-28},{"t":3422,"a":26},{"t":3434,"a":-30},{"t":3446,"a":28},{"t":3458,"a":-25},{"t":3470,"a":30},{"t":3482,"a":-27},{"t":3494,"a":24},{"t":3506,"a":-28},{"t":3518,"a":26},{"t":3530,"a":-22},{"t":3542,"a":25},{"t":3554,"a":-24},{"t":3566,"a":22},{"t":3578,"a":-26},{"t":3590,"a":24},{"t":3602,"a":-20},{"t":3614,"a":22},{"t":3626,"a":-21},{"t":3640,"a":20},{"t":3654,"a":-18},{"t":3668,"a":19},{"t":3682,"a":-20},{"t":3696,"a":17},{"t":3710,"a":-16},{"t":3724,"a":19},{"t":3738,"a":-18},{"t":3752,"a":16},{"t":3766,"a":-17},{"t":3780,"a":18},{"t":3794,"a":-15},{"t":3808,"a":17},{"t":3822,"a":-18},{"t":3836,"a":15},{"t":3850,"a":-16},{"t":3864,"a":18},{"t":3878,"a":-14},{"t":3892,"a":16},{"t":3906,"a":-17},{"t":3920,"a":15},{"t":3934,"a":-14},{"t":3948,"a":16},{"t":3962,"a":-15},{"t":3976,"a":13},{"t":3990,"a":-14},{"t":4004,"a":15},{"t":4018,"a":-13},{"t":4032,"a":14},{"t":4046,"a":-15},{"t":4060,"a":12},{"t":4074,"a":-13},{"t":4088,"a":14},{"t":4102,"a":-12},{"t":4116,"a":13},{"t":4130,"a":-12},{"t":4144,"a":11},{"t":4158,"a":-13},{"t":4172,"a":12},{"t":4186,"a":-10},{"t":4200,"a":11},{"t":4214,"a":-12},{"t":4228,"a":10},{"t":4242,"a":-11},{"t":4256,"a":10},{"t":4270,"a":-9},{"t":4284,"a":11},{"t":4298,"a":-10},{"t":4312,"a":9},{"t":4326,"a":-10},{"t":4340,"a":9},{"t":4354,"a":-8},{"t":4368,"a":10},{"t":4382,"a":-9},{"t":4396,"a":8},{"t":4410,"a":-9},{"t":4424,"a":8},{"t":4440,"a":-7},{"t":4456,"a":6},{"t":4472,"a":-8},{"t":4488,"a":7},{"t":4504,"a":-6},{"t":4520,"a":7},{"t":4536,"a":-7},{"t":4552,"a":6},{"t":4568,"a":-5},{"t":4584,"a":7},{"t":4600,"a":-6},{"t":4616,"a":5},{"t":4632,"a":-7},{"t":4648,"a":6},{"t":4664,"a":-5},{"t":4680,"a":6},{"t":4696,"a":-6},{"t":4712,"a":5},{"t":4728,"a":-6},{"t":4744,"a":7},{"t":4760,"a":-5},{"t":4776,"a":6},{"t":4792,"a":-6},{"t":4808,"a":5},{"t":4824,"a":-5},{"t":4840,"a":6},{"t":4856,"a":-6},{"t":4872,"a":5},{"t":4888,"a":-5},{"t":4904,"a":6},{"t":4920,"a":-5},{"t":4936,"a":5},{"t":4952,"a":-6},{"t":4968,"a":5},{"t":4984,"a":-4},{"t":5000,"a":5},{"t":5016,"a":-5},{"t":5032,"a":6},{"t":5048,"a":-5},{"t":5064,"a":4},{"t":5080,"a":-5},{"t":5096,"a":5},{"t":5112,"a":-6},{"t":5128,"a":5},{"t":5144,"a":-4},{"t":5160,"a":5},{"t":5176,"a":-5},{"t":5192,"a":4},{"t":5208,"a":-5},{"t":5224,"a":5},{"t":5240,"a":-4},{"t":5256,"a":6},{"t":5272,"a":-5},{"t":5288,"a":4},{"t":5304,"a":-5},{"t":5320,"a":5},{"t":5336,"a":-4},{"t":5352,"a":4},{"t":5368,"a":-5},{"t":5384,"a":5},{"t":5400,"a":-4},{"t":5416,"a":4},{"t":5432,"a":-5},{"t":5448,"a":5},{"t":5464,"a":-4},{"t":5480,"a":4},{"t":5496,"a":-5},{"t":5512,"a":4},{"t":5528,"a":-4},{"t":5544,"a":5},{"t":5560,"a":-4},{"t":5576,"a":4},{"t":5592,"a":-5},{"t":5608,"a":4},{"t":5624,"a":-4},{"t":5640,"a":5},{"t":5656,"a":-5},{"t":5672,"a":4},{"t":5688,"a":-4},{"t":5704,"a":5},{"t":5720,"a":-4},{"t":5736,"a":4},{"t":5752,"a":-5},{"t":5768,"a":6},{"t":5784,"a":-5},{"t":5800,"a":4},{"t":5816,"a":-4},{"t":5832,"a":5},{"t":5848,"a":-4},{"t":5864,"a":4},{"t":5880,"a":-5},{"t":5896,"a":4},{"t":5912,"a":-4},{"t":5928,"a":5},{"t":5944,"a":-3},{"t":5955,"a":1}],
"ehe":[{"t":-41,"a":0},{"t":45,"a":0},{"t":125,"a":0},{"t":205,"a":0},{"t":285,"a":0},{"t":365,"a":0},{"t":445,"a":0},{"t":525,"a":0},{"t":605,"a":0},{"t":685,"a":0},{"t":765,"a":0},{"t":845,"a":0},{"t":848,"a":8},{"t":853,"a":-8},{"t":858,"a":7},{"t":864,"a":-7},{"t":870,"a":8},{"t":876,"a":-6},{"t":882,"a":7},{"t":888,"a":-8},{"t":894,"a":6},{"t":900,"a":-7},{"t":907,"a":6},{"t":914,"a":-5},{"t":921,"a":6},{"t":928,"a":-6},{"t":936,"a":5},{"t":944,"a":-5},{"t":952,"a":6},{"t":960,"a":-4},{"t":970,"a":4},{"t":980,"a":-3},{"t":990,"a":4},{"t":1000,"a":-3},{"t":1012,"a":3},{"t":1024,"a":-4},{"t":1036,"a":3},{"t":1048,"a":-3},{"t":1060,"a":4},{"t":1072,"a":-3},{"t":1084,"a":3},{"t":1096,"a":-4},{"t":1108,"a":3},{"t":1120,"a":-3},{"t":1132,"a":4},{"t":1144,"a":-3},{"t":1156,"a":3},{"t":1168,"a":-3},{"t":1180,"a":4},{"t":1192,"a":-3},{"t":1204,"a":3},{"t":1216,"a":-4},{"t":1228,"a":3},{"t":1240,"a":-3},{"t":1252,"a":4},{"t":1264,"a":-3},{"t":1276,"a":3},{"t":1288,"a":-4},{"t":1300,"a":3},{"t":1312,"a":-3},{"t":1324,"a":4},{"t":1336,"a":-3},{"t":1348,"a":3},{"t":1360,"a":-4},{"t":1372,"a":3},{"t":1384,"a":-3},{"t":1396,"a":4},{"t":1408,"a":-3},{"t":1424,"a":13},{"t":1430,"a":-10},{"t":1437,"a":9},{"t":1445,"a":-6},{"t":1457,"a":5},{"t":1471,"a":-4},{"t":1485,"a":5},{"t":1499,"a":-3},{"t":1513,"a":4},{"t":1527,"a":-5},{"t":1541,"a":4},{"t":1555,"a":-3},{"t":1569,"a":5},{"t":1583,"a":-4},{"t":1597,"a":3},{"t":1611,"a":-5},{"t":1625,"a":4},{"t":1639,"a":-4},{"t":1653,"a":5},{"t":1667,"a":-3},{"t":1681,"a":4},{"t":1695,"a":-5},{"t":1709,"a":4},{"t":1723,"a":-4},{"t":1737,"a":6},{"t":1751,"a":-5},{"t":1765,"a":4},{"t":1779,"a":-5},{"t":1793,"a":6},{"t":1807,"a":-4},{"t":1821,"a":5},{"t":1835,"a":-6},{"t":1849,"a":5},{"t":1863,"a":-4},{"t":1877,"a":6},{"t":1891,"a":-5},{"t":1905,"a":4},{"t":1919,"a":-6},{"t":1933,"a":5},{"t":1947,"a":-4},{"t":1961,"a":6},{"t":1975,"a":-5},{"t":1989,"a":7},{"t":2003,"a":-6},{"t":2017,"a":8},{"t":2031,"a":-7},{"t":2045,"a":6},{"t":2059,"a":-8},{"t":2073,"a":7},{"t":2087,"a":-6},{"t":2099,"a":13},{"t":2111,"a":-10},{"t":2123,"a":8},{"t":2135,"a":-9},{"t":2147,"a":18},{"t":2159,"a":-14},{"t":2171,"a":10},{"t":2183,"a":-12},{"t":2193,"a":38},{"t":2205,"a":-50},{"t":2217,"a":58},{"t":2229,"a":-40},{"t":2241,"a":30},{"t":2253,"a":-45},{"t":2265,"a":50},{"t":2277,"a":-55},{"t":2289,"a":55},{"t":2301,"a":-48},{"t":2313,"a":60},{"t":2325,"a":-52},{"t":2337,"a":61},{"t":2349,"a":-65},{"t":2361,"a":55},{"t":2373,"a":-58},{"t":2385,"a":52},{"t":2397,"a":-49},{"t":2409,"a":48},{"t":2421,"a":-45},{"t":2433,"a":50},{"t":2445,"a":-42},{"t":2457,"a":45},{"t":2469,"a":-40},{"t":2481,"a":38},{"t":2493,"a":-35},{"t":2505,"a":32},{"t":2517,"a":-30},{"t":2529,"a":35},{"t":2541,"a":-28},{"t":2553,"a":25},{"t":2565,"a":-30},{"t":2577,"a":28},{"t":2589,"a":-22},{"t":2601,"a":24},{"t":2613,"a":-20},{"t":2625,"a":18},{"t":2637,"a":-15},{"t":2649,"a":20},{"t":2661,"a":-12},{"t":2673,"a":16},{"t":2685,"a":-18},{"t":2697,"a":22},{"t":2709,"a":-15},{"t":2721,"a":12},{"t":2733,"a":-20},{"t":2745,"a":25},{"t":2757,"a":-18},{"t":2769,"a":15},{"t":2781,"a":-22},{"t":2793,"a":28},{"t":2805,"a":-20},{"t":2817,"a":18},{"t":2829,"a":-25},{"t":2841,"a":22},{"t":2853,"a":-18},{"t":2865,"a":26},{"t":2877,"a":-30},{"t":2889,"a":45},{"t":2901,"a":-40},{"t":2913,"a":38},{"t":2925,"a":-42},{"t":2937,"a":44},{"t":2949,"a":-38},{"t":2961,"a":35},{"t":2973,"a":-45},{"t":2985,"a":48},{"t":2997,"a":-42},{"t":3009,"a":40},{"t":3021,"a":-46},{"t":3033,"a":50},{"t":3045,"a":-44},{"t":3057,"a":48},{"t":3069,"a":-52},{"t":3081,"a":55},{"t":3093,"a":-65},{"t":3105,"a":63},{"t":3117,"a":-48},{"t":3129,"a":30},{"t":3141,"a":-25},{"t":3153,"a":22},{"t":3165,"a":-28},{"t":3177,"a":26},{"t":3189,"a":-35},{"t":3201,"a":40},{"t":3213,"a":-38},{"t":3225,"a":44},{"t":3237,"a":-42},{"t":3249,"a":48},{"t":3261,"a":-55},{"t":3273,"a":51},{"t":3285,"a":-46},{"t":3297,"a":44},{"t":3309,"a":-40},{"t":3321,"a":38},{"t":3333,"a":-35},{"t":3345,"a":30},{"t":3357,"a":-32},{"t":3369,"a":28},{"t":3381,"a":-25},{"t":3393,"a":30},{"t":3405,"a":-28},{"t":3417,"a":24},{"t":3429,"a":-30},{"t":3441,"a":26},{"t":3453,"a":-22},{"t":3465,"a":25},{"t":3477,"a":-28},{"t":3489,"a":22},{"t":3501,"a":-24},{"t":3513,"a":26},{"t":3525,"a":-20},{"t":3537,"a":22},{"t":3549,"a":-25},{"t":3561,"a":20},{"t":3573,"a":-18},{"t":3585,"a":22},{"t":3597,"a":-20},{"t":3609,"a":16},{"t":3621,"a":30},{"t":3633,"a":-18},{"t":3645,"a":15},{"t":3657,"a":-14},{"t":3669,"a":16},{"t":3681,"a":-12},{"t":3693,"a":14},{"t":3705,"a":-15},{"t":3717,"a":12},{"t":3731,"a":-13},{"t":3745,"a":14},{"t":3759,"a":-11},{"t":3773,"a":12},{"t":3787,"a":-14},{"t":3801,"a":13},{"t":3815,"a":-11},{"t":3829,"a":12},{"t":3843,"a":-13},{"t":3857,"a":15},{"t":3871,"a":-12},{"t":3885,"a":21},{"t":3899,"a":-14},{"t":3913,"a":12},{"t":3927,"a":-10},{"t":3941,"a":11},{"t":3955,"a":-12},{"t":3969,"a":10},{"t":3983,"a":-11},{"t":3997,"a":12},{"t":4011,"a":-10},{"t":4027,"a":9},{"t":4043,"a":-8},{"t":4059,"a":10},{"t":4075,"a":-9},{"t":4091,"a":8},{"t":4107,"a":-10},{"t":4123,"a":9},{"t":4139,"a":-7},{"t":4155,"a":8},{"t":4171,"a":-9},{"t":4187,"a":10},{"t":4203,"a":-8},{"t":4219,"a":7},{"t":4235,"a":-9},{"t":4251,"a":8},{"t":4267,"a":-7},{"t":4283,"a":9},{"t":4299,"a":-8},{"t":4315,"a":7},{"t":4331,"a":-8},{"t":4347,"a":9},{"t":4363,"a":-7},{"t":4379,"a":8},{"t":4395,"a":-9},{"t":4411,"a":7},{"t":4427,"a":-6},{"t":4443,"a":8},{"t":4459,"a":-7},{"t":4475,"a":6},{"t":4491,"a":-8},{"t":4507,"a":7},{"t":4523,"a":-6},{"t":4539,"a":8},{"t":4555,"a":-7},{"t":4571,"a":6},{"t":4587,"a":-7},{"t":4603,"a":8},{"t":4619,"a":-6},{"t":4635,"a":7},{"t":4651,"a":-8},{"t":4667,"a":6},{"t":4683,"a":-7},{"t":4699,"a":7},{"t":4715,"a":-6},{"t":4731,"a":8},{"t":4747,"a":-7},{"t":4763,"a":6},{"t":4779,"a":-6},{"t":4795,"a":7},{"t":4811,"a":-8},{"t":4827,"a":6},{"t":4843,"a":-6},{"t":4859,"a":7},{"t":4875,"a":-7},{"t":4891,"a":6},{"t":4907,"a":-5},{"t":4923,"a":7},{"t":4939,"a":-6},{"t":4955,"a":6},{"t":4971,"a":-7},{"t":4987,"a":5},{"t":5003,"a":-6},{"t":5019,"a":7},{"t":5035,"a":-6},{"t":5051,"a":5},{"t":5067,"a":-7},{"t":5083,"a":6},{"t":5099,"a":-5},{"t":5115,"a":6},{"t":5131,"a":-6},{"t":5147,"a":7},{"t":5163,"a":-5},{"t":5179,"a":6},{"t":5195,"a":-6},{"t":5211,"a":5},{"t":5227,"a":-6},{"t":5243,"a":7},{"t":5259,"a":-5},{"t":5275,"a":6},{"t":5291,"a":-7},{"t":5307,"a":5},{"t":5323,"a":-6},{"t":5339,"a":6},{"t":5355,"a":-5},{"t":5371,"a":7},{"t":5387,"a":-6},{"t":5403,"a":5},{"t":5419,"a":-6},{"t":5435,"a":6},{"t":5451,"a":-5},{"t":5467,"a":7},{"t":5483,"a":-6},{"t":5499,"a":5},{"t":5515,"a":-6},{"t":5531,"a":6},{"t":5547,"a":-7},{"t":5563,"a":5},{"t":5579,"a":-6},{"t":5595,"a":6},{"t":5611,"a":-5},{"t":5627,"a":7},{"t":5643,"a":-6},{"t":5659,"a":5},{"t":5675,"a":-6},{"t":5691,"a":6},{"t":5707,"a":-5},{"t":5723,"a":7},{"t":5739,"a":-6},{"t":5755,"a":5},{"t":5771,"a":-6},{"t":5787,"a":6},{"t":5803,"a":-5},{"t":5819,"a":7},{"t":5835,"a":-6},{"t":5851,"a":5},{"t":5867,"a":-6},{"t":5883,"a":6},{"t":5899,"a":-5},{"t":5915,"a":6},{"t":5931,"a":-5},{"t":5947,"a":4},{"t":5955,"a":0}]
},
"vconcat":[
{"width":1162,"height":135.5,"layer":[
 {"data":{"name":"hhz"},"mark":{"type":"line","color":"#000","strokeWidth":1,"clip":true},"encoding":{
  "x":{"field":"t","type":"quantitative","scale":{"domain":[-41,5955],"nice":false,"zero":false},"axis":{"orient":"top","tickCount":300,"values":[20,80,140,200,260,320,380,440,500,560,620,680,740,800,860,920,980,1040,1100,1160,1220,1280,1340,1400,1460,1520,1580,1640,1700,1760,1820,1880,1940,2000,2060,2120,2180,2240,2300,2360,2420,2480,2540,2600,2660,2720,2780,2840,2900,2960,3020,3080,3140,3200,3260,3320,3380,3440,3500,3560,3620,3680,3740,3800,3860,3920,3980,4040,4100,4160,4220,4280,4340,4400,4460,4520,4580,4640,4700,4760,4820,4880,4940,5000,5060,5120,5180,5240,5300,5360,5420,5480,5540,5600,5660,5720,5780,5840,5900],"labels":false,"domain":false,"tickColor":"#888","tickDash":[1,1.5],"tickSize":{"condition":{"test":"(datum.value - 20) % 300 === 0","value":6},"value":4}}},
  "y":{"field":"a","type":"quantitative","scale":{"domain":[-125,125],"nice":false},"axis":{"tickCount":20,"values":[-100,-50,0,50,100],"ticks":false,"domainColor":"#333","labelAlign":"right","labelBaseline":"middle","labelPadding":1,"labelFlush":false,"labelOverlap":false,"labelExpr":"datum.value === 0 ? '0\u00a0' : (datum.value < 0 ? '-' + (datum.value <= -100 ? '' : '\u00a0') + abs(datum.value) : datum.label)"}}}},
 {"data":{"values":[{"label":"PD.DZIW.LC.HHZ [um/s]"}]},"mark":{"type":"text","align":"left","baseline":"top","dx":2,"dy":4,"color":"#000"},"encoding":{"x":{"datum":-41},"y":{"datum":125},"text":{"field":"label"}}},
 {"data":{"values":[{"stamp":"2023-07-16T06:44:58.100000Z"}]},"mark":{"type":"text","align":"right","baseline":"top","dx":-2,"dy":4,"fontWeight":"bold","color":"#000"},"encoding":{"x":{"datum":5955},"y":{"datum":125},"text":{"field":"stamp"}}},
 {"data":{"values":[{"phase":"eP","t":846}]},"layer":[
  {"mark":{"type":"rule","color":"#cc3333","strokeWidth":1},"encoding":{"x":{"field":"t","type":"quantitative"}}},
  {"mark":{"type":"text","color":"#cc3333","align":"left","baseline":"top","dx":1,"dy":4},"encoding":{"x":{"field":"t","type":"quantitative"},"y":{"datum":125},"text":{"field":"phase"}}}]}
]},
{"width":1162,"height":135.5,"layer":[
 {"data":{"name":"hhn"},"mark":{"type":"line","color":"#000","strokeWidth":1,"clip":true},"encoding":{
  "x":{"field":"t","type":"quantitative","scale":{"domain":[-41,5955],"nice":false,"zero":false},"axis":null},
  "y":{"field":"a","type":"quantitative","scale":{"domain":[-125,125],"nice":false},"axis":{"tickCount":20,"values":[-100,-50,0,50,100],"ticks":false,"domainColor":"#333","labelAlign":"right","labelBaseline":"middle","labelPadding":1,"labelFlush":false,"labelOverlap":false,"labelExpr":"datum.value === 0 ? '0\u00a0' : (datum.value < 0 ? '-' + (datum.value <= -100 ? '' : '\u00a0') + abs(datum.value) : datum.label)"}}}},
 {"data":{"values":[{"label":"PD.DZIW.LC.HHN [um/s]"}]},"mark":{"type":"text","align":"left","baseline":"top","dx":2,"dy":4,"color":"#000"},"encoding":{"x":{"datum":-41},"y":{"datum":125},"text":{"field":"label"}}},
 {"data":{"values":[{"phase":"eS","t":1414}]},"layer":[
  {"mark":{"type":"rule","color":"#cc3333","strokeWidth":1},"encoding":{"x":{"field":"t","type":"quantitative"}}},
  {"mark":{"type":"text","color":"#cc3333","align":"left","baseline":"top","dx":1,"dy":4},"encoding":{"x":{"field":"t","type":"quantitative"},"y":{"datum":125},"text":{"field":"phase"}}}]}
]},
{"width":1162,"height":135.5,"layer":[
 {"data":{"name":"hhe"},"mark":{"type":"line","color":"#000","strokeWidth":1,"clip":true},"encoding":{
  "x":{"field":"t","type":"quantitative","scale":{"domain":[-41,5955],"nice":false,"zero":false},"axis":null},
  "y":{"field":"a","type":"quantitative","scale":{"domain":[-125,125],"nice":false},"axis":{"tickCount":20,"values":[-100,-50,0,50,100],"ticks":false,"domainColor":"#333","labelAlign":"right","labelBaseline":"middle","labelPadding":1,"labelFlush":false,"labelOverlap":false,"labelExpr":"datum.value === 0 ? '0\u00a0' : (datum.value < 0 ? '-' + (datum.value <= -100 ? '' : '\u00a0') + abs(datum.value) : datum.label)"}}}},
 {"data":{"values":[{"label":"PD.DZIW.LC.HHE [um/s]"}]},"mark":{"type":"text","align":"left","baseline":"top","dx":2,"dy":4,"color":"#000"},"encoding":{"x":{"datum":-41},"y":{"datum":125},"text":{"field":"label"}}}
]},
{"width":1162,"height":135.5,"layer":[
 {"data":{"name":"ehz"},"mark":{"type":"line","color":"#000","strokeWidth":1,"clip":true},"encoding":{
  "x":{"field":"t","type":"quantitative","scale":{"domain":[-41,5955],"nice":false,"zero":false},"axis":null},
  "y":{"field":"a","type":"quantitative","scale":{"domain":[-67.5,67.5],"nice":false},"axis":{"tickCount":20,"values":[-40,-20,0,20,40],"ticks":false,"domainColor":"#333","labelAlign":"right","labelBaseline":"middle","labelPadding":1,"labelFlush":false,"labelOverlap":false,"labelExpr":"datum.value === 0 ? '0\u00a0' : (datum.value < 0 ? '-\u00a0' + abs(datum.value) : datum.label)"}}}},
 {"data":{"values":[{"label":"PD.PG14..EHZ [um/s]"}]},"mark":{"type":"text","align":"left","baseline":"top","dx":2,"dy":4,"color":"#000"},"encoding":{"x":{"datum":-41},"y":{"datum":67.5},"text":{"field":"label"}}},
 {"data":{"values":[{"phase":"eP","t":846}]},"layer":[
  {"mark":{"type":"rule","color":"#cc3333","strokeWidth":1},"encoding":{"x":{"field":"t","type":"quantitative"}}},
  {"mark":{"type":"text","color":"#cc3333","align":"left","baseline":"top","dx":1,"dy":4},"encoding":{"x":{"field":"t","type":"quantitative"},"y":{"datum":67.5},"text":{"field":"phase"}}}]}
]},
{"width":1162,"height":135.5,"layer":[
 {"data":{"name":"ehn"},"mark":{"type":"line","color":"#000","strokeWidth":1,"clip":true},"encoding":{
  "x":{"field":"t","type":"quantitative","scale":{"domain":[-41,5955],"nice":false,"zero":false},"axis":null},
  "y":{"field":"a","type":"quantitative","scale":{"domain":[-67.5,67.5],"nice":false},"axis":{"tickCount":20,"values":[-40,-20,0,20,40],"ticks":false,"domainColor":"#333","labelAlign":"right","labelBaseline":"middle","labelPadding":1,"labelFlush":false,"labelOverlap":false,"labelExpr":"datum.value === 0 ? '0\u00a0' : (datum.value < 0 ? '-\u00a0' + abs(datum.value) : datum.label)"}}}},
 {"data":{"values":[{"label":"PD.PG14..EHN [um/s]"}]},"mark":{"type":"text","align":"left","baseline":"top","dx":2,"dy":4,"color":"#000"},"encoding":{"x":{"datum":-41},"y":{"datum":67.5},"text":{"field":"label"}}},
 {"data":{"values":[{"phase":"eS","t":1419}]},"layer":[
  {"mark":{"type":"rule","color":"#cc3333","strokeWidth":1},"encoding":{"x":{"field":"t","type":"quantitative"}}},
  {"mark":{"type":"text","color":"#cc3333","align":"left","baseline":"top","dx":1,"dy":4},"encoding":{"x":{"field":"t","type":"quantitative"},"y":{"datum":67.5},"text":{"field":"phase"}}}]}
]},
{"width":1162,"height":135.5,"layer":[
 {"data":{"name":"ehe"},"mark":{"type":"line","color":"#000","strokeWidth":1,"clip":true},"encoding":{
  "x":{"field":"t","type":"quantitative","scale":{"domain":[-41,5955],"nice":false,"zero":false},"axis":{"orient":"bottom","tickCount":300,"values":[20,80,140,200,260,320,380,440,500,560,620,680,740,800,860,920,980,1040,1100,1160,1220,1280,1340,1400,1460,1520,1580,1640,1700,1760,1820,1880,1940,2000,2060,2120,2180,2240,2300,2360,2420,2480,2540,2600,2660,2720,2780,2840,2900,2960,3020,3080,3140,3200,3260,3320,3380,3440,3500,3560,3620,3680,3740,3800,3860,3920,3980,4040,4100,4160,4220,4280,4340,4400,4460,4520,4580,4640,4700,4760,4820,4880,4940,5000,5060,5120,5180,5240,5300,5360,5420,5480,5540,5600,5660,5720,5780,5840,5900],"domain":false,"tickColor":"#888","tickDash":[1,1.5],"tickSize":{"condition":{"test":"(datum.value - 20) % 300 === 0","value":6},"value":4},"labelPadding":0,"labelOverlap":false,"labelFlush":false,"labelExpr":"(datum.value - 20) % 300 === 0 && datum.value < 5500 ? format(6 + floor((45 + (datum.value - 20) / 60) / 60), '02d') + ':' + format((45 + (datum.value - 20) / 60) % 60, '02d') : ''","title":"[h:m]","titleX":1137,"titleY":12,"titleBaseline":"middle","titleAlign":"center","titleFontWeight":"normal","titleFontSize":15,"titleColor":"#000"}},
  "y":{"field":"a","type":"quantitative","scale":{"domain":[-67.5,67.5],"nice":false},"axis":{"tickCount":20,"values":[-40,-20,0,20,40],"ticks":false,"domainColor":"#333","labelAlign":"right","labelBaseline":"middle","labelPadding":1,"labelFlush":false,"labelOverlap":false,"labelExpr":"datum.value === 0 ? '0\u00a0' : (datum.value < 0 ? '-\u00a0' + abs(datum.value) : datum.label)"}}}},
 {"data":{"values":[{"label":"PD.PG14..EHE [um/s]"}]},"mark":{"type":"text","align":"left","baseline":"top","dx":2,"dy":4,"color":"#000"},"encoding":{"x":{"datum":-41},"y":{"datum":67.5},"text":{"field":"label"}}}
]}
]
}
